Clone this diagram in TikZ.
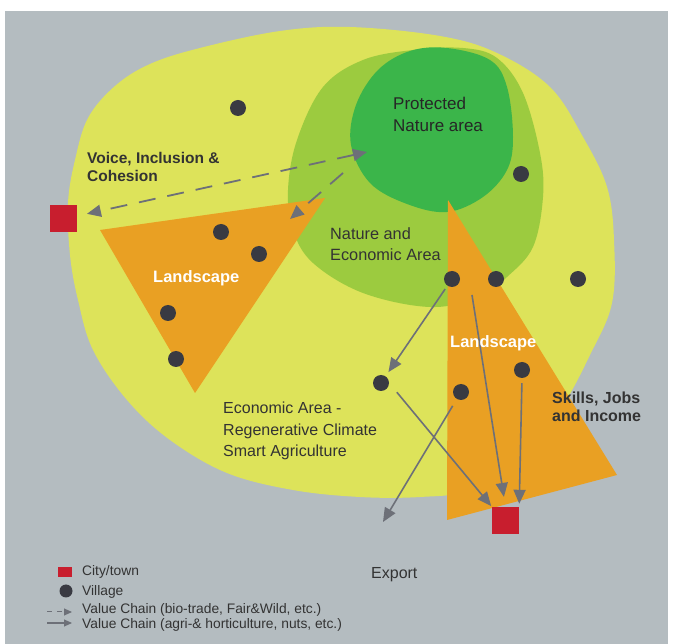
\documentclass[tikz,border=0pt]{standalone}
\usepackage{fontspec}
\setmainfont{Liberation Sans}
\usetikzlibrary{arrows.meta}
\definecolor{bggrey}{HTML}{B4BCC0}
\definecolor{outeryellow}{HTML}{DDE35A}
\definecolor{midgreen}{HTML}{9CCB3F}
\definecolor{naturegreen}{HTML}{3BB54A}
\definecolor{landorange}{HTML}{E9A023}
\definecolor{townred}{HTML}{C81E2E}
\definecolor{villagedot}{HTML}{393A42}
\definecolor{chaingrey}{HTML}{6D7078}
\definecolor{areatext}{HTML}{333333}
\begin{document}
\begin{tikzpicture}[x=1pt, y=-1pt,
    village/.style={circle, fill=villagedot, minimum size=16pt, inner sep=0pt},
    town/.style={rectangle, fill=townred, minimum size=27pt, inner sep=0pt},
    chain/.style={draw=chaingrey, line width=1.6pt},
    biochain/.style={chain, line width=1.8pt, dash pattern=on 17pt off 12pt},
    area/.style={anchor=north west, align=left, inner sep=0pt, text=areatext},
    legendtext/.style={anchor=base west, inner sep=0pt, text=areatext,
        font=\fontsize{13.8}{16}\selectfont},
    >={Triangle[length=14pt,width=12pt]}]
    \useasboundingbox (0,0) rectangle (673,644);
    \fill[white] (0,0) rectangle (673,644);
    \fill[bggrey] (5,11) rectangle (668,644);
    % areas
    \fill[outeryellow] plot[smooth cycle, tension=0.6] coordinates {
        (200,48) (280,31) (350,27) (440,36) (497,53) (550,87) (583,137)
        (607,187) (614,240) (612,303) (590,355) (560,410) (520,458)
        (470,490) (420,497) (360,497) (293,490) (227,473) (170,440)
        (127,400) (93,350) (78,300) (70,255) (68,203) (75,160) (88,118)
        (115,86) (150,64)};
    \fill[midgreen] plot[smooth cycle, tension=0.6] coordinates {
        (363,60) (413,50) (463,48) (497,58) (523,93) (540,153) (543,197)
        (533,247) (507,277) (480,297) (430,307) (363,293) (313,263)
        (293,230) (288,190) (297,140) (323,87)};
    \fill[naturegreen] plot[smooth cycle, tension=0.6] coordinates {
        (410,51) (447,48) (490,60) (507,87) (513,137) (507,170) (483,197)
        (447,212) (407,204) (370,183) (351,145) (356,105) (378,70)};
    % landscapes
    \fill[landorange] (100,230) -- (325,198) -- (195,393) -- cycle;
    \fill[landorange] (448,200) -- (617,475) -- (447,520) -- cycle;

    % villages and towns
    \node[village] (v1) at (238,108) {};
    \node[village] (v2) at (521,174) {};
    \node[village] (v3) at (221,232) {};
    \node[village] (v4) at (259,254) {};
    \node[village] (v5) at (452,279) {};
    \node[village] (v6) at (496,279) {};
    \node[village] (v7) at (578,279) {};
    \node[village] (v8) at (168,313) {};
    \node[village] (v9) at (381,383) {};
    \node[village] (v10) at (461,392) {};
    \node[village] (v11) at (176,359) {};
    \node[village] (v12) at (522,370) {};
    \node[town] (city1) at (63.5,219) {};
    \node[town] (city2) at (505.5,520.5) {};

    % value chains
    \coordinate (pn) at (367,152);
    \coordinate (ns) at (343,173);
    \coordinate (ls) at (290,219);
    \coordinate (s3) at (472,295);
    \coordinate (export) at (383,522);
    \draw[biochain, <->, shorten >=10pt] (pn) -- (city1);
    \draw[biochain, ->] (ns) -- (ls);
    \draw[chain, ->, shorten <=4pt, shorten >=5pt] (v5) -- (v9);
    \draw[chain, ->, shorten <=12pt, shorten >=1pt] (v9.east) -- (city2.north west);
    \draw[chain, ->, shorten >=10pt] (s3) -- (city2.north);
    \draw[chain, ->, shorten <=5pt, shorten >=3pt] (v12.south) -- (city2.north east);
    \draw[chain, ->, shorten <=8pt] (v10) -- (export);

    % texts
    \node[area, text=black!85, font=\fontsize{17}{21.5}\selectfont] (tpna) at (393,97)
        {Protected\\Nature area};
    \node[area, font=\bfseries\fontsize{15.5}{18.5}\selectfont] (tvoice) at (87,152)
        {Voice, Inclusion \&\\Cohesion};
    \node[area, font=\fontsize{16.3}{21}\selectfont] (tnea) at (330,227)
        {Nature and\\Economic Area};
    \node[area, text=white, font=\bfseries\fontsize{16.5}{20}\selectfont] (tland1) at (153,270)
        {Landscape};
    \node[area, text=white, font=\bfseries\fontsize{16.5}{20}\selectfont] (tland2) at (450,335)
        {Landscape};
    \node[area, font=\bfseries\fontsize{16}{18}\selectfont] (tskills) at (552,392)
        {Skills, Jobs\\and Income};
    \node[area, font=\fontsize{16}{21.5}\selectfont] (tecon) at (223,402)
        {Economic Area -\\Regenerative Climate\\Smart Agriculture};
    \node[area, font=\fontsize{16}{20}\selectfont] (texport) at (371,567) {Export};

    % legend
    \node[town, minimum width=14pt, minimum height=10pt] (ltown) at (65,572.5) {};
    \node[village, minimum size=13pt] (lvillage) at (66,591) {};
    \coordinate (lda) at (47,612);
    \coordinate (ldb) at (72,612);
    \coordinate (lsa) at (47,623);
    \coordinate (lsb) at (72,623);
    \draw[chain, line width=1pt, dash pattern=on 5pt off 5pt, -{Triangle[length=8pt,width=7pt]}] (lda) -- (ldb);
    \draw[chain, line width=1pt, -{Triangle[length=8pt,width=7pt]}] (lsa) -- (lsb);
    \node[legendtext] (lt1) at (82,576) {City/town};
    \node[legendtext] (lt2) at (82,595) {Village};
    \node[legendtext] (lt3) at (82,614) {Value Chain (bio-trade, Fair\&Wild, etc.)};
    \node[legendtext] (lt4) at (82,629) {Value Chain (agri-\& horticulture, nuts, etc.)};
\end{tikzpicture}
\end{document}
